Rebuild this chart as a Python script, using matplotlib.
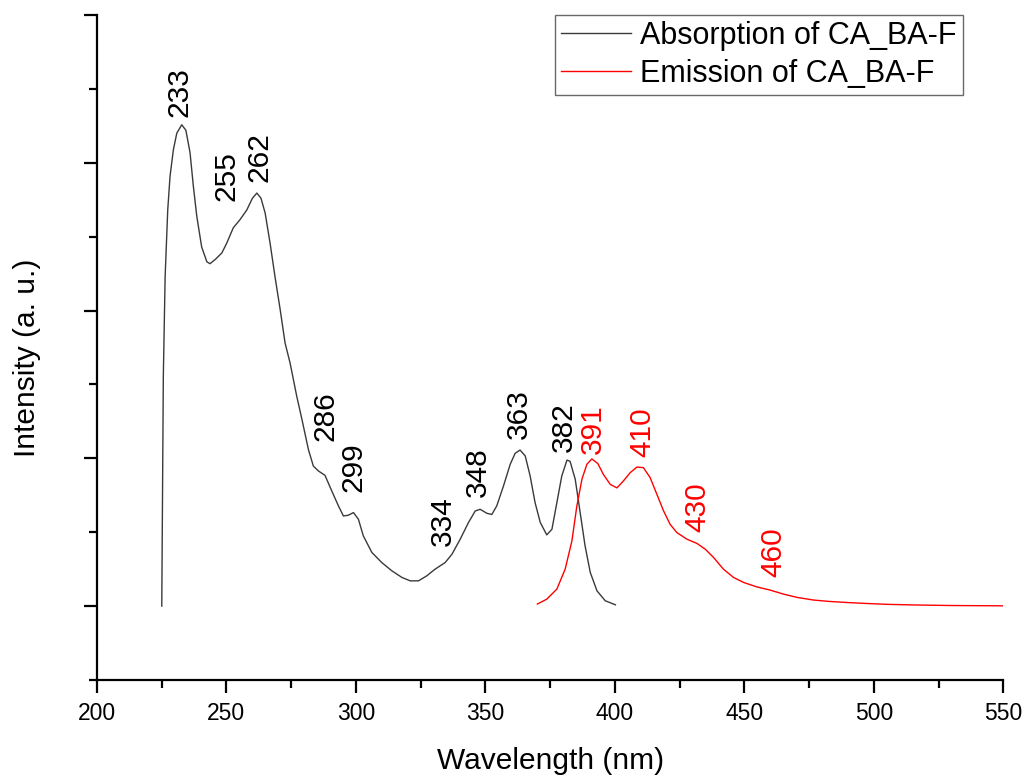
import numpy as np
import matplotlib.pyplot as plt
from matplotlib.ticker import MultipleLocator

plt.rcParams["font.family"] = ["Liberation Sans", "DejaVu Sans"]

# absorption spectrum of CA_BA-F
abs_wl = [225.1, 225.3, 225.7, 226.4, 227.4, 228.3, 229.6, 230.9, 232.8, 234.4,
          236.0, 237.3, 238.6, 240.5, 242.5, 243.7, 245.7, 248.3, 250.2, 252.7,
          255.3, 257.9, 260.1, 261.8, 263.4, 265.0, 266.9, 268.8, 270.8, 272.7,
          274.6, 277.2, 279.2, 281.7, 283.6, 285.6, 288.1, 290.7, 293.3, 295.2,
          297.1, 299.1, 301.0, 302.9, 306.2, 310.0, 313.9, 317.8, 321.0, 324.2,
          327.4, 330.6, 334.5, 337.1, 340.3, 343.5, 346.1, 348.0, 350.6, 352.5,
          354.4, 357.0, 359.6, 361.5, 363.4, 365.4, 367.3, 369.2, 371.2, 373.7,
          375.7, 377.6, 379.5, 381.5, 382.7, 384.7, 386.6, 388.5, 390.5, 393.1,
          396.3, 400.2]
abs_int = [0.0, 0.52, 1.556, 2.23, 2.68, 2.91, 3.09, 3.20, 3.257, 3.22,
           3.07, 2.84, 2.64, 2.43, 2.33, 2.317, 2.345, 2.39, 2.457, 2.56,
           2.615, 2.68, 2.76, 2.795, 2.76, 2.66, 2.457, 2.23, 2.007, 1.78,
           1.647, 1.42, 1.264, 1.06, 0.948, 0.914, 0.885, 0.78, 0.678, 0.61,
           0.615, 0.633, 0.588, 0.475, 0.363, 0.295, 0.239, 0.194, 0.171, 0.171,
           0.205, 0.25, 0.295, 0.351, 0.453, 0.566, 0.644, 0.655, 0.628, 0.62,
           0.678, 0.813, 0.96, 1.034, 1.056, 1.016, 0.88, 0.70, 0.566, 0.482,
           0.52, 0.70, 0.88, 0.988, 0.98, 0.858, 0.633, 0.407, 0.228, 0.103,
           0.036, 0.009]

# emission spectrum of CA_BA-F
em_wl = [370.1, 373.7, 377.6, 380.8, 383.4, 385.3, 387.3, 389.2, 391.1, 393.4,
         395.6, 398.2, 400.8, 403.3, 405.9, 408.5, 411.0, 413.6, 416.2, 418.8,
         421.3, 423.9, 427.8, 431.7, 434.9, 438.1, 441.9, 445.8, 449.7, 454.8,
         460.0, 465.1, 470.3, 476.7, 482.5, 490.0, 497.0, 505.0, 515.0, 530.0,
         550.0]
em_int = [0.014, 0.047, 0.115, 0.25, 0.44, 0.675, 0.86, 0.96, 0.996, 0.965,
          0.89, 0.824, 0.80, 0.847, 0.903, 0.941, 0.937, 0.87, 0.757, 0.644,
          0.554, 0.498, 0.453, 0.424, 0.385, 0.329, 0.25, 0.194, 0.16, 0.13,
          0.108, 0.081, 0.059, 0.041, 0.032, 0.024, 0.018, 0.012, 0.008, 0.004,
          0.002]

# peak labels: text, x, y of the label foot
abs_peaks = ["233", "255", "262", "286", "299", "334", "348", "363", "382"]
abs_px = [231.8, 249.9, 262.7, 288.2, 299.0, 333.5, 347.0, 362.9, 380.2]
abs_py = [3.31, 2.74, 2.87, 1.115, 0.77, 0.405, 0.736, 1.128, 1.04]
em_peaks = ["391", "410", "430", "460"]
em_px = [391.4, 410.5, 431.8, 461.0]
em_py = [1.027, 1.007, 0.50, 0.196]

fig = plt.figure(figsize=(10.27, 7.76), dpi=100)
ax = fig.add_axes([0.0942, 0.1237, 0.8829, 0.857])

ax.plot(abs_wl, abs_int, color="#3a3a3a", lw=1.0, label="Absorption of CA_BA-F")
ax.plot(em_wl, em_int, color="red", lw=1.0, label="Emission of CA_BA-F")

for t, x, y in zip(abs_peaks, abs_px, abs_py):
    ax.text(x, y, t, rotation=90, ha="center", va="bottom", fontsize=21.5,
            color="black")
for t, x, y in zip(em_peaks, em_px, em_py):
    ax.text(x, y, t, rotation=90, ha="center", va="bottom", fontsize=21.5,
            color="red")

ax.set_xlim(200, 550)
ax.set_ylim(-0.5, 4)
ax.xaxis.set_major_locator(MultipleLocator(50))
ax.xaxis.set_minor_locator(MultipleLocator(25))
ax.yaxis.set_major_locator(MultipleLocator(1))
ax.yaxis.set_minor_locator(MultipleLocator(0.5))
ax.set_yticklabels([])

for s in ["top", "right"]:
    ax.spines[s].set_visible(False)
for s in ["left", "bottom"]:
    ax.spines[s].set_linewidth(1.6)

ax.tick_params(which="major", direction="out", length=9.5, width=1.6,
               labelsize=16.5, pad=6)
ax.tick_params(which="minor", direction="out", length=5.5, width=1.6)
ax.tick_params(top=False, right=False)

ax.set_xlabel("Wavelength (nm)", fontsize=21.5, labelpad=16)
ax.set_ylabel("Intensity (a. u.)", fontsize=21.5)
ax.yaxis.set_label_coords(-0.0614, 0.484)

leg = fig.legend(loc="upper right", bbox_to_anchor=(0.9377, 0.9807),
                 fontsize=22, frameon=True, fancybox=False,
                 handlelength=2.3, handletextpad=0.3, borderpad=0.2,
                 labelspacing=0.25, borderaxespad=0)
leg.get_frame().set_edgecolor("#444444")
leg.get_frame().set_linewidth(1.0)

fig.savefig("out.png", dpi=100)
